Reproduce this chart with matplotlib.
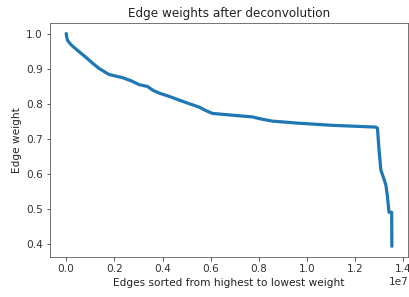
import matplotlib
matplotlib.use("Agg")
import matplotlib.pyplot as plt
import numpy as np

# edge rank (sorted) and weight
edge_rank = [0.0, 0.02e6, 0.06e6, 0.2e6, 0.4e6, 0.82e6, 1.1e6, 1.37e6, 1.78e6,
             2.34e6, 2.7e6, 3.03e6, 3.37e6, 3.6e6, 3.86e6, 4.3e6, 4.69e6,
             5.1e6, 5.52e6, 5.8e6, 6.07e6, 6.9e6, 7.73e6, 8.1e6, 8.56e6,
             9.67e6, 11.05e6, 12.85e6, 12.92e6, 12.99e6, 13.06e6, 13.13e6,
             13.27e6, 13.33e6, 13.4e6, 13.51e6, 13.52e6]
edge_weight = [1.0, 0.99, 0.98, 0.968, 0.956, 0.932, 0.915, 0.90, 0.883,
               0.874, 0.865, 0.854, 0.849, 0.838, 0.83, 0.82, 0.81,
               0.80, 0.79, 0.78, 0.772, 0.767, 0.762, 0.756, 0.75,
               0.744, 0.738, 0.733, 0.730, 0.665, 0.611, 0.597,
               0.568, 0.538, 0.49, 0.49, 0.393]

fig = plt.figure(figsize=(409 / 72, 297 / 72), dpi=72)
ax = fig.add_axes([0.122, 0.135, 0.876, 0.788])

ax.plot(edge_rank, edge_weight, color='#1f77b4', linewidth=3.2,
        solid_capstyle='round')

ax.set_title("Edge weights after deconvolution", fontsize=12, color='#222222')
ax.set_xlabel("Edges sorted from highest to lowest weight", fontsize=10.5,
              color='#222222')
ax.set_ylabel("Edge weight", fontsize=10.5, color='#222222')
ax.tick_params(labelsize=10.5, colors='#333333', labelcolor='#333333')
ax.xaxis.get_offset_text().set_fontsize(10.5)
for s in ax.spines.values():
    s.set_color('#555555')
ax.margins(x=0.05, y=0.05)

plt.savefig("out.png", dpi=72)
plt.close()
